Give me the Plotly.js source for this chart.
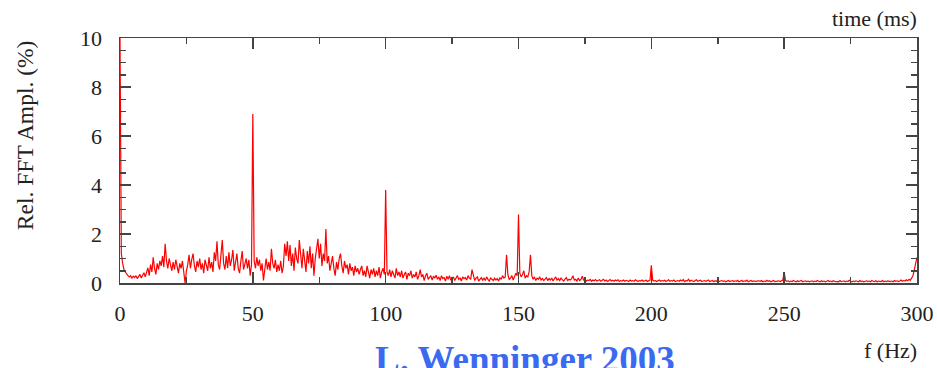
<!DOCTYPE html>
<html>
<head>
<meta charset="utf-8">
<script src="https://cdn.plot.ly/plotly-3.0.1.min.js"></script>
<style>html,body{margin:0;padding:0;background:#fff;}#chart{width:937px;height:368px;}</style>
</head>
<body>
<div id="chart"></div>
<script>
// Frequency resolution of the spectrum (Hz) and start frequency
var freqStart = 0;
var freqStep = 0.5;

// Relative FFT amplitude (%), 0.5 Hz bins, in 10 Hz blocks
var amp000 = [10.0,1.2,0.8,0.55,0.45,0.35,0.3,0.25,0.3,0.2,0.28,0.22,0.3,0.18,0.25,0.35,0.2,0.3,0.42,0.25];
var amp010 = [0.5,0.62,0.3,0.75,0.45,1.05,0.6,0.35,0.8,0.55,0.9,0.7,1.1,0.65,1.6,0.9,0.6,1.0,0.75,0.5];
var amp020 = [0.85,0.55,0.95,0.7,0.4,0.8,0.6,0.9,0.35,0.0,0.5,0.75,1.15,0.6,0.95,1.2,0.7,0.45,0.9,0.65];
var amp030 = [1.0,0.55,0.8,0.4,0.95,0.7,0.5,1.05,0.6,0.85,0.45,1.25,0.9,1.7,0.75,0.55,1.3,1.75,0.8,0.55];
var amp040 = [1.1,0.6,1.25,0.7,0.95,1.35,0.5,0.85,1.2,0.6,0.4,0.9,1.3,0.55,0.8,1.0,0.6,0.95,0.3,0.75];
var amp050 = [6.9,0.9,0.6,1.05,0.7,0.95,0.5,0.8,0.1,0.7,1.0,0.55,0.85,0.5,1.4,0.8,0.6,0.95,0.45,0.75];
var amp060 = [0.5,0.9,0.4,0.7,1.6,1.1,1.7,0.9,1.55,0.7,1.2,0.5,1.45,1.0,0.8,1.75,1.1,0.6,1.4,0.9];
var amp070 = [0.45,1.3,0.8,1.5,0.6,1.2,0.3,1.0,1.45,1.8,1.0,1.6,0.7,1.2,0.9,2.2,0.8,1.1,0.5,0.9];
var amp080 = [1.1,0.6,0.3,0.85,0.55,1.0,1.2,0.7,0.4,0.9,0.6,0.75,0.35,0.8,0.5,0.65,0.3,0.7,0.45,0.6];
var amp090 = [0.35,0.55,0.7,0.3,0.5,0.25,0.7,0.45,0.2,0.55,0.35,0.6,0.25,0.5,0.3,0.65,0.2,0.45,0.6,0.35];
var amp100 = [3.8,0.45,0.3,0.55,0.25,0.5,0.35,0.2,0.6,0.3,0.45,0.25,0.5,0.2,0.35,0.45,0.15,0.4,0.3,0.5];
var amp110 = [0.2,0.35,0.25,0.45,0.15,0.3,0.55,0.25,0.35,0.1,0.3,0.4,0.15,0.25,0.3,0.12,0.28,0.2,0.32,0.15];
var amp120 = [0.25,0.1,0.3,0.18,0.22,0.08,0.28,0.15,0.3,0.12,0.2,0.25,0.1,0.22,0.3,0.15,0.2,0.08,0.25,0.18];
var amp130 = [0.22,0.12,0.3,0.2,0.15,0.55,0.3,0.1,0.2,0.25,0.08,0.18,0.22,0.12,0.2,0.1,0.25,0.15,0.08,0.2];
var amp140 = [0.15,0.1,0.2,0.12,0.18,0.08,0.22,0.15,0.3,0.2,0.25,1.15,0.35,0.15,0.2,0.3,0.12,0.25,0.4,0.3];
var amp150 = [2.8,0.4,0.25,0.35,0.5,0.2,0.3,0.25,0.45,1.15,0.3,0.15,0.25,0.1,0.2,0.15,0.25,0.12,0.18,0.1];
var amp160 = [0.15,0.22,0.1,0.18,0.12,0.2,0.08,0.15,0.25,0.12,0.18,0.1,0.2,0.14,0.08,0.16,0.22,0.1,0.15,0.12];
var amp170 = [0.18,0.3,0.12,0.15,0.08,0.2,0.1,0.14,0.28,0.12,0.16,0.08,0.12,0.1,0.15,0.07,0.12,0.09,0.14,0.08];
var amp180 = [0.1,0.13,0.07,0.11,0.15,0.08,0.12,0.06,0.1,0.14,0.08,0.11,0.07,0.12,0.09,0.13,0.06,0.1,0.08,0.12];
var amp190 = [0.07,0.11,0.09,0.06,0.12,0.08,0.1,0.07,0.13,0.09,0.06,0.1,0.08,0.12,0.07,0.09,0.11,0.06,0.1,0.12];
var amp200 = [0.72,0.12,0.08,0.1,0.06,0.09,0.12,0.07,0.1,0.08,0.11,0.06,0.09,0.13,0.07,0.1,0.08,0.12,0.06,0.09];
var amp210 = [0.1,0.07,0.12,0.08,0.14,0.06,0.1,0.09,0.15,0.07,0.11,0.08,0.06,0.1,0.13,0.07,0.09,0.11,0.06,0.08];
var amp220 = [0.1,0.07,0.09,0.12,0.06,0.08,0.1,0.05,0.09,0.07,0.11,0.06,0.08,0.1,0.07,0.09,0.05,0.08,0.1,0.06];
var amp230 = [0.08,0.1,0.06,0.09,0.07,0.11,0.05,0.08,0.1,0.06,0.09,0.07,0.12,0.05,0.08,0.1,0.06,0.09,0.07,0.08];
var amp240 = [0.06,0.09,0.07,0.1,0.05,0.08,0.06,0.11,0.07,0.09,0.05,0.08,0.1,0.06,0.08,0.07,0.09,0.06,0.1,0.12];
var amp250 = [0.45,0.1,0.07,0.09,0.05,0.08,0.06,0.1,0.07,0.05,0.09,0.06,0.08,0.1,0.05,0.07,0.09,0.06,0.08,0.05];
var amp260 = [0.07,0.09,0.05,0.08,0.06,0.1,0.07,0.05,0.09,0.06,0.08,0.05,0.07,0.1,0.06,0.08,0.05,0.09,0.07,0.06];
var amp270 = [0.08,0.05,0.1,0.06,0.07,0.09,0.05,0.08,0.06,0.11,0.07,0.05,0.08,0.06,0.09,0.07,0.05,0.1,0.06,0.08];
var amp280 = [0.05,0.07,0.09,0.06,0.08,0.05,0.1,0.07,0.06,0.09,0.05,0.08,0.07,0.06,0.1,0.05,0.08,0.06,0.09,0.07];
var amp290 = [0.06,0.08,0.05,0.1,0.07,0.09,0.06,0.08,0.12,0.07,0.1,0.08,0.13,0.09,0.15,0.11,0.2,0.3,0.55,0.8];
var amp300 = [1.05];

var xTickVals = [0, 50, 100, 150, 200, 250, 300];
var xTickText = ['0', '50', '100', '150', '200', '250', '300'];
var yTickVals = [0, 2, 4, 6, 8, 10];
var yTickText = ['0', '2', '4', '6', '8', '10'];

var amplitude = [].concat(amp000, amp010, amp020, amp030, amp040, amp050, amp060, amp070, amp080, amp090,
  amp100, amp110, amp120, amp130, amp140, amp150, amp160, amp170, amp180, amp190,
  amp200, amp210, amp220, amp230, amp240, amp250, amp260, amp270, amp280, amp290, amp300);

var serif = 'Liberation Serif, Times New Roman, serif';
var axisColor = '#444';

var trace = {
  type: 'scatter',
  mode: 'lines',
  x0: freqStart,
  dx: freqStep,
  y: amplitude,
  line: {color: '#ff0000', width: 1.2},
  hoverinfo: 'x+y'
};

var layout = {
  width: 937,
  height: 368,
  margin: {l: 120, r: 20, t: 38, b: 85},
  paper_bgcolor: '#ffffff',
  plot_bgcolor: '#ffffff',
  showlegend: false,
  font: {family: serif, size: 22, color: '#222'},
  xaxis: {
    range: [0, 300],
    tickvals: xTickVals,
    ticktext: xTickText,
    ticks: 'inside',
    ticklen: 11,
    tickwidth: 1.5,
    tickcolor: axisColor,
    minor: {dtick: 25, ticks: 'inside', ticklen: 6, tickwidth: 1.5, tickcolor: axisColor, showgrid: false},
    showline: true,
    linecolor: axisColor,
    linewidth: 1.5,
    mirror: 'ticks',
    showgrid: false,
    zeroline: false,
    ticklabelstandoff: 10,
    tickfont: {family: serif, size: 22, color: '#222'}
  },
  yaxis: {
    range: [0, 10],
    tickvals: yTickVals,
    ticktext: yTickText,
    ticks: 'inside',
    ticklen: 11,
    tickwidth: 1.5,
    tickcolor: axisColor,
    minor: {dtick: 0.5, ticks: 'inside', ticklen: 6, tickwidth: 1.5, tickcolor: axisColor, showgrid: false},
    showline: true,
    linecolor: axisColor,
    linewidth: 1.5,
    mirror: 'ticks',
    showgrid: false,
    zeroline: false,
    ticklabelstandoff: 12,
    tickfont: {family: serif, size: 22, color: '#222'}
  },
  annotations: [
    {text: 'Rel. FFT Ampl. (%)', xref: 'paper', yref: 'paper', x: -0.12, y: 0.605, xanchor: 'center', yanchor: 'middle',
     textangle: -90, showarrow: false, font: {family: serif, size: 23.5, color: '#222'}},
    {text: 'time (ms)', xref: 'paper', yref: 'paper', x: 1.003, y: 1.02, xanchor: 'right', yanchor: 'bottom',
     showarrow: false, font: {family: serif, size: 22, color: '#222'}},
    {text: 'f (Hz)', xref: 'paper', yref: 'paper', x: 1.003, y: -0.215, xanchor: 'right', yanchor: 'top',
     showarrow: false, font: {family: serif, size: 22, color: '#222'}},
    {text: '<b>L. Wenninger 2003</b>', xref: 'paper', yref: 'paper', x: 0.317, y: -0.22, xanchor: 'left', yanchor: 'top',
     showarrow: false, font: {family: serif, size: 37, color: '#3a6af0'}}
  ]
};

Plotly.newPlot('chart', [trace], layout, {displayModeBar: false, staticPlot: true});
</script>
</body>
</html>
